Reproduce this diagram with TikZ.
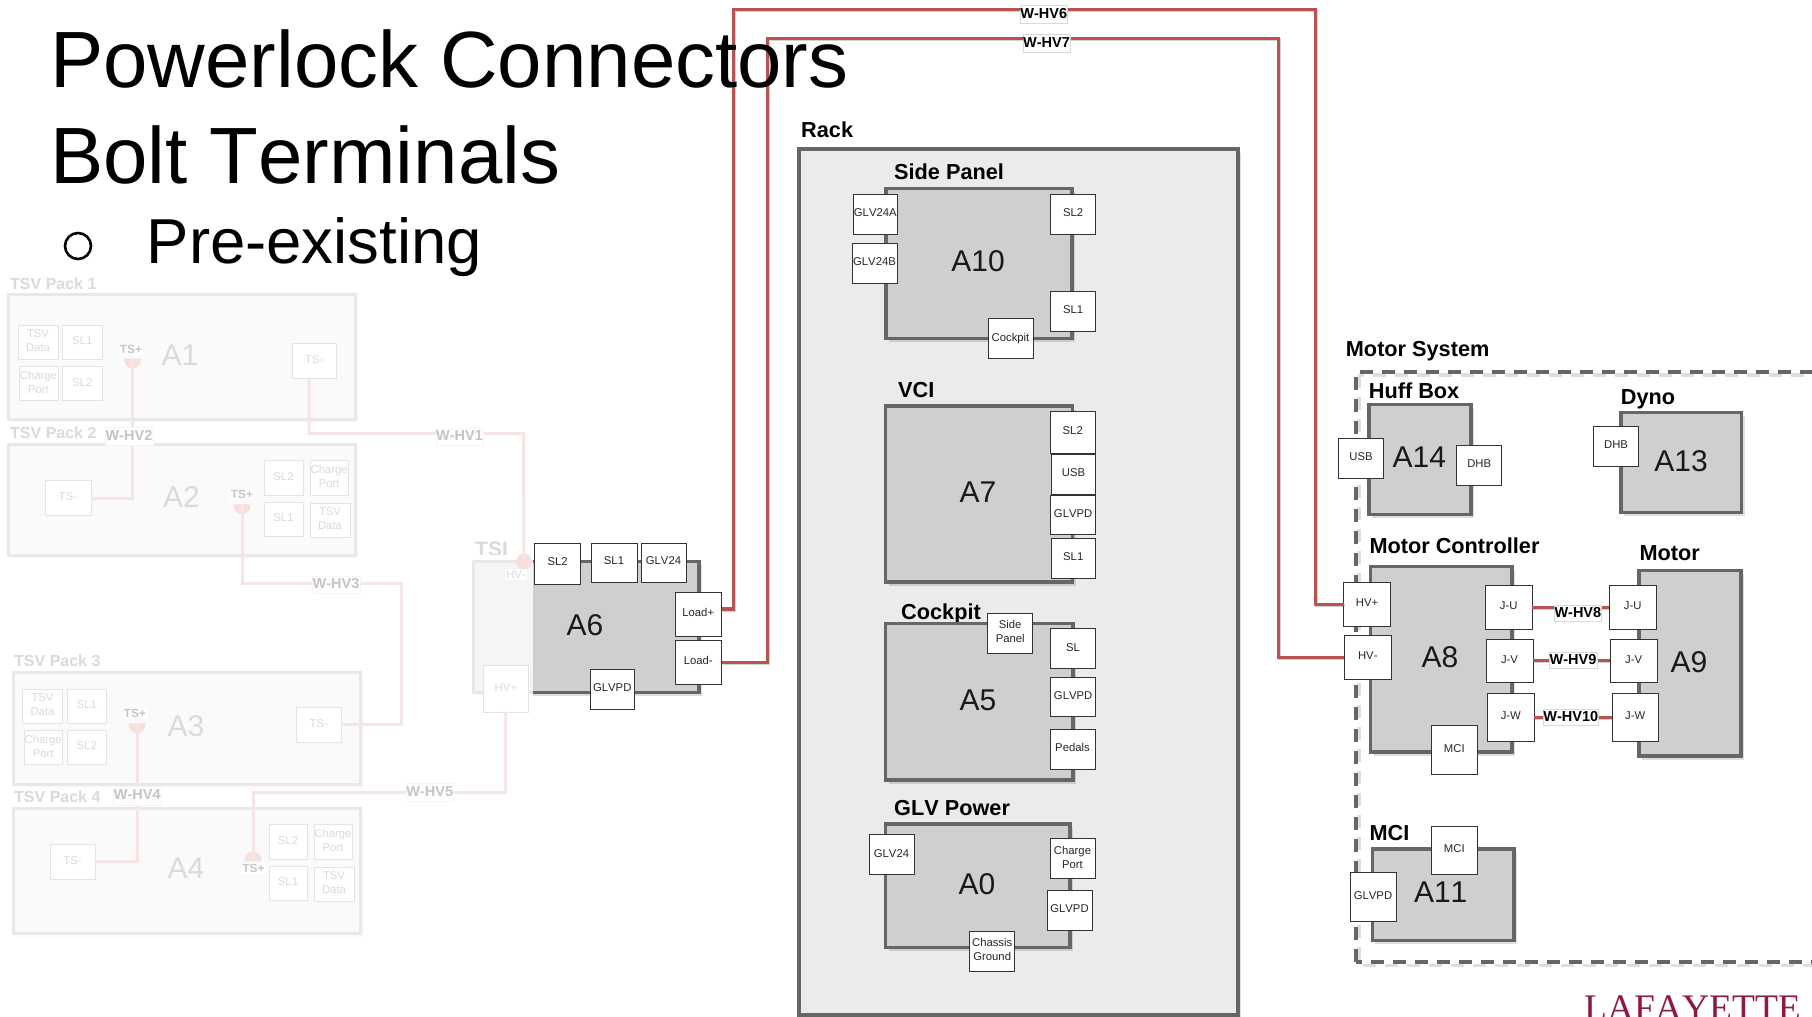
\documentclass[tikz,border=0pt]{standalone}
\usepackage{fontspec}
\setmainfont[Kerning=Off]{Liberation Sans}
\newfontfamily\logofont[Kerning=Off]{Liberation Serif}
\definecolor{wirered}{HTML}{B85450}
\definecolor{boxline}{HTML}{666666}
\definecolor{unitfill}{HTML}{CFCFCF}
\definecolor{rackfill}{HTML}{EBEBEB}
\definecolor{fadeline}{HTML}{E8E8E8}
\definecolor{fadefill}{HTML}{FAFAFA}
\definecolor{fadeport}{HTML}{E4E4E4}
\definecolor{fadetext}{HTML}{DADADA}
\definecolor{fadewire}{HTML}{F6E5E4}
\definecolor{fadedisk}{HTML}{F8DEDD}
\definecolor{logored}{HTML}{8E1B3D}
\tikzset{
  basebox/.style={rectangle,inner sep=0pt,outer sep=0pt,align=center},
  unitbox/.style={basebox,draw=boxline,line width=3.4pt,fill=unitfill},
  rackbox/.style={basebox,draw=boxline,line width=3.4pt,fill=rackfill},
  port/.style={basebox,draw=black!80,line width=1pt,fill=white,text=black!85,
    font=\fontsize{11.3}{14}\selectfont,text depth=3pt},
  fport/.style={basebox,draw=fadeport,line width=1pt,fill=white,text=fadetext,
    font=\fontsize{11.3}{14}\selectfont,text depth=3pt},
  packbox/.style={basebox,draw=fadeline,line width=3pt,fill=fadefill},
  wlabel/.style={basebox,draw=black!15,line width=.5pt,fill=white,text=black,
    font=\fontsize{14.5}{17}\selectfont\bfseries,text depth=2pt},
  fwlabel/.style={basebox,draw=black!4,line width=.5pt,fill=white,text=fadetext!90!black,
    font=\fontsize{14.5}{17}\selectfont\bfseries,text depth=2pt},
  wire/.style={draw=wirered,line width=3.1pt,
    preaction={draw=black,opacity=.18,line width=3.1pt,transform canvas={xshift=1pt,yshift=-1pt}}},
  fwire/.style={draw=fadewire,line width=3pt},
  unitlab/.style={inner sep=0pt,font=\fontsize{30}{32}\selectfont,text=black!90},
  funitlab/.style={inner sep=0pt,font=\fontsize{30}{32}\selectfont,text=fadetext},
  grouplab/.style={anchor=base west,inner sep=0pt,font=\fontsize{21.7}{24}\selectfont\bfseries,text=black},
  fpacklab/.style={anchor=base west,inner sep=0pt,font=\fontsize{16}{18}\selectfont\bfseries,text=fadetext},
  tsplus/.style={fill=white,inner sep=1pt,font=\fontsize{11.9}{14}\selectfont\bfseries,text=fadetext!90!black},
  titletext/.style={anchor=base west,inner sep=0pt,text=black},
  shade/.style={black,opacity=.13},
  fshade/.style={black,opacity=.02},
  sysbox/.style={draw=boxline,line width=3.6pt,dash pattern=on 13pt off 9pt},
}
\newcommand{\bx}[7][]{\node[#1,minimum width={(#5-#3)*1pt},minimum height={(#6-#4)*1pt}] (#2) at ({(#3+#5)/2},{(#4+#6)/2}) {#7};}
\newcommand{\unit}[5]{\fill[shade] ({#2+3},{#3+3.5}) rectangle ({#4+3},{#5+3.5});
  \bx[unitbox]{#1}{#2}{#3}{#4}{#5}{}}
\newcommand{\pack}[5]{\fill[fshade] ({#2+3},{#3+3.5}) rectangle ({#4+3},{#5+3.5});
  \bx[packbox]{#1}{#2}{#3}{#4}{#5}{}}
\begin{document}
\begin{tikzpicture}[x=1pt,y=-1pt]
\useasboundingbox (0,0) rectangle (1812,1017);
\clip (0,0) rectangle (1812,1017);
\fill[white] (0,0) rectangle (1812,1017);

\coordinate (w6a) at (733.2,9.2);
\coordinate (w6b) at (1315.2,9.2);
\coordinate (w7a) at (767.2,38.2);
\coordinate (w7b) at (1278.2,38.2);

% ---- faded packs
\node[fpacklab] (p1lab) at (10,289.3) {TSV Pack 1};
\pack{a1}{8.5}{294.3}{355.5}{419.3}
\bx[fport]{a1tsv}{18}{325}{58}{359.3}{TSV\\Data}
\bx[fport]{a1sl1}{62.5}{325}{102}{359.3}{SL1}
\bx[fport]{a1chg}{19}{366.7}{58}{400.7}{Charge\\Port}
\bx[fport]{a1sl2}{62.5}{366.7}{102}{400.7}{SL2}
\bx[fport]{a1tsm}{292}{343.3}{336.5}{378.3}{TS-}
\node[funitlab] (a1lab) at (180,355) {A1};

\node[fpacklab] (p2lab) at (10,438.3) {TSV Pack 2};
\pack{a2}{8.5}{444}{355.5}{555.7}
\bx[fport]{a2tsm}{45}{480.3}{91}{515.7}{TS-}
\bx[fport]{a2sl2}{264}{460.7}{303}{495}{SL2}
\bx[fport]{a2chg}{310}{460.7}{348.5}{495}{Charge\\Port}
\bx[fport]{a2sl1}{264}{502.3}{303}{536.7}{SL1}
\bx[fport]{a2tsv}{310}{503.3}{350}{537.3}{TSV\\Data}
\node[funitlab] (a2lab) at (181.5,497.3) {A2};

\node[fpacklab] (p3lab) at (14,666.7) {TSV Pack 3};
\pack{a3}{13}{672}{360.5}{784}
\bx[fport]{a3tsv}{22.5}{689}{62.5}{723.3}{TSV\\Data}
\bx[fport]{a3sl1}{67.5}{689}{106}{723.3}{SL1}
\bx[fport]{a3chg}{24}{730.3}{62.5}{764.7}{Charge\\Port}
\bx[fport]{a3sl2}{67.5}{730.3}{106}{764.7}{SL2}
\bx[fport]{a3tsm}{296.5}{707.3}{341}{742.3}{TS-}
\node[funitlab] (a3lab) at (186,726) {A3};

\node[fpacklab] (p4lab) at (14,802.3) {TSV Pack 4};
\pack{a4}{13}{808}{360.5}{933.3}
\bx[fport]{a4tsm}{50}{844.3}{95}{879.3}{TS-}
\bx[fport]{a4sl2}{269}{824.3}{307}{859.3}{SL2}
\bx[fport]{a4chg}{314}{824.3}{352}{859.3}{Charge\\Port}
\bx[fport]{a4sl1}{269}{866.3}{307}{900.3}{SL1}
\bx[fport]{a4tsv}{314}{867.3}{354}{901.7}{TSV\\Data}
\node[funitlab] (a4lab) at (186,868.3) {A4};

% ---- rack
\node[grouplab] (racklab) at (801,137.7) {Rack};
\fill[shade] (802,153) rectangle (1241,1020);
\bx[rackbox]{rack}{799}{149}{1238}{1015}{}

\node[grouplab] (a10head) at (894,179) {Side Panel};
\unit{a10}{886}{188.3}{1072}{338.3}
\bx[port]{a10ga}{853}{194.7}{897.6}{234.3}{GLV24A}
\bx[port]{a10gb}{852}{243.7}{897}{283.3}{GLV24B}
\bx[port]{a10sl2}{1050.7}{194.7}{1095.5}{234.3}{SL2}
\bx[port]{a10sl1}{1050.7}{291.7}{1095.5}{331.3}{SL1}
\bx[port]{a10ck}{988}{318.7}{1033}{358.3}{Cockpit}
\node[unitlab] (a10lab) at (978,261) {A10};

\node[grouplab] (a7head) at (898,397) {VCI};
\unit{a7}{885.7}{406}{1072.7}{582}
\bx[port]{a7sl2}{1050}{411.7}{1095.5}{453}{SL2}
\bx[port]{a7usb}{1051.7}{454}{1095.5}{494}{USB}
\bx[port]{a7gp}{1050.7}{495}{1095.5}{534.7}{GLVPD}
\bx[port]{a7sl1}{1051}{538}{1095.5}{578}{SL1}
\node[unitlab] (a7lab) at (978,492) {A7};

\node[grouplab] (a5head) at (901,619) {Cockpit};
\unit{a5}{885.7}{623.7}{1073}{780}
\bx[port]{a5sp}{987.7}{613}{1032.7}{653}{Side\\Panel}
\bx[port]{a5sl}{1050.7}{628.7}{1095.5}{668.7}{SL}
\bx[port]{a5gp}{1050.7}{677}{1095.5}{716.7}{GLVPD}
\bx[port]{a5pd}{1050}{729}{1095}{769}{Pedals}
\node[unitlab] (a5lab) at (978,700) {A5};

\node[grouplab] (a0head) at (894,815) {GLV Power};
\unit{a0}{885.7}{824}{1070}{947.7}
\bx[port]{a0gl}{869}{834.7}{914}{874.7}{GLV24}
\bx[port]{a0chg}{1050}{838.7}{1095}{878.7}{Charge\\Port}
\bx[port]{a0gp}{1047}{890}{1092}{930}{GLVPD}
\bx[port]{a0cg}{969.7}{931}{1014.7}{971}{Chassis\\Ground}
\node[unitlab] (a0lab) at (977,884) {A0};

% ---- TSI / A6
\node[anchor=base west,inner sep=0pt,font=\fontsize{21}{24}\selectfont\bfseries,text=fadetext] (tsilab) at (475,556) {TSI};
\unit{a6}{473}{561.7}{699}{692.7}
\fill[white] (468,555) rectangle (533,700);
\fill[black!4] (473,561.7) rectangle (533,692.7);
\draw[draw=fadeline,line width=3pt] (533,561.7) -- (473,561.7) -- (473,692.7) -- (533,692.7);
\node[fill=white,inner sep=1.5pt,font=\fontsize{11.3}{14}\selectfont,text=fadetext] (hvm) at (516,574.5) {HV-};
\coordinate (hvmdisk) at (524,561.7);
\fill[fadedisk] (hvmdisk) circle (8pt);
\bx[port]{a6sl2}{534.7}{543}{580.7}{584}{SL2}
\bx[port]{a6sl1}{591}{543}{637}{582}{SL1}
\bx[port]{a6gl}{641}{543}{686}{582}{GLV24}
\bx[port]{loadp}{675}{592}{721.5}{636}{Load+}
\bx[port]{loadm}{675}{640.7}{721.5}{684}{Load-}
\bx[port]{a6gp}{590}{669}{634.5}{709}{GLVPD}
\bx[fport]{hvp}{483}{665.7}{528.7}{712.2}{HV+}
\node[unitlab] (a6lab) at (585,625) {A6};

% ---- motor system
\node[grouplab] (syslab) at (1345.7,356.7) {Motor System};
\draw[sysbox,opacity=.13,draw=black] (1359.2,375.2) rectangle (1816.5,965.5);
\draw[sysbox] (1356,962) -- (1356,371.7) -- (1813.5,371.7) -- (1813.5,962) -- cycle;

\node[grouplab] (a14head) at (1368.7,398.3) {Huff Box};
\unit{a14}{1369}{404.7}{1471}{514.3}
\bx[port]{a14usb}{1338.7}{438.7}{1383.3}{478.3}{USB}
\bx[port]{a14dhb}{1456.7}{445.3}{1501.7}{485}{DHB}
\node[unitlab] (a14lab) at (1419.3,457.3) {A14};

\node[grouplab] (a13head) at (1620.7,404) {Dyno};
\unit{a13}{1621}{412.3}{1741.7}{512.7}
\bx[port]{a13dhb}{1593.7}{426.7}{1638.3}{466.3}{DHB}
\node[unitlab] (a13lab) at (1681,460.7) {A13};

\node[grouplab] (a8head) at (1369.3,553.3) {Motor Controller};
\unit{a8}{1370.7}{566.7}{1512}{752}
\bx[port]{hvpos}{1343.7}{582.7}{1390.3}{626.3}{HV+}
\bx[port]{hvneg}{1344.3}{635.3}{1391.3}{679}{HV-}
\bx[port]{a8ju}{1485.3}{585.3}{1532}{629.3}{J-U}
\bx[port]{a8jv}{1486}{639}{1533}{682.3}{J-V}
\bx[port]{a8jw}{1487.7}{693.3}{1534}{741.7}{J-W}
\bx[port]{a8mci}{1431.3}{725.7}{1477.3}{774}{MCI}
\node[unitlab] (a8lab) at (1440,657) {A8};

\node[grouplab] (a9head) at (1639.3,560.7) {Motor};
\unit{a9}{1639}{570.7}{1741}{756}
\bx[port]{a9ju}{1609.3}{585.3}{1656}{629.3}{J-U}
\bx[port]{a9jv}{1610.3}{639}{1657}{682.3}{J-V}
\bx[port]{a9jw}{1612.3}{693.3}{1658}{741.7}{J-W}
\node[unitlab] (a9lab) at (1689,661.7) {A9};

\node[grouplab] (a11head) at (1369.3,840.7) {MCI};
\unit{a11}{1372.3}{849}{1514}{940.7}
\bx[port]{a11mci}{1431.3}{826.3}{1477.3}{874.7}{MCI}
\bx[port]{a11gp}{1350}{872.7}{1396}{921}{GLVPD}
\node[unitlab] (a11lab) at (1440.7,892.3) {A11};

% ---- faded wires and half disks
\coordinate (d1) at (132.5,358.7);
\coordinate (d2) at (242,504.3);
\coordinate (d3) at (137,723.3);
\coordinate (d4) at (253,861.3);
\fill[fadedisk] ([xshift=-8.6pt]d1) arc (180:360:8.6pt and 10pt) -- cycle;
\fill[fadedisk] ([xshift=-8.6pt]d2) arc (180:360:8.6pt and 10pt) -- cycle;
\fill[fadedisk] ([xshift=-8.6pt]d3) arc (180:360:8.6pt and 10pt) -- cycle;
\fill[fadedisk] ([xshift=-8.6pt]d4) arc (180:0:8.6pt and 10pt) -- cycle;
\node[tsplus] (d1lab) at (131,349.3) {TS+};
\node[tsplus] (d2lab) at (242,494.3) {TS+};
\node[tsplus] (d3lab) at (135,713.3) {TS+};
\node[tsplus] (d4lab) at (253.5,868.7) {TS+};
\coordinate (v1) at (523.5,433.7);
\coordinate (v3) at (401,583);
\coordinate (v5) at (253,792.3);
\draw[fwire] (a1tsm.south -| 309,0) |- (v1) -- (hvmdisk);
\draw[fwire] (d1) |- (a2tsm.east);
\draw[fwire] (d2) |- (v3) |- (a3tsm.east);
\draw[fwire] (d3) |- (a4tsm.east);
\draw[fwire] (d4) -- (v5) -| (hvp.south);
\bx[fwlabel]{w1}{436}{428.3}{483}{445}{W-HV1}
\bx[fwlabel]{w2}{105}{427.7}{153}{445}{W-HV2}
\bx[fwlabel]{w3}{312}{576}{360}{593}{W-HV3}
\bx[fwlabel]{w4}{113.5}{786.7}{161}{805}{W-HV4}
\bx[fwlabel]{w5}{406}{783.3}{453.5}{801}{W-HV5}

% ---- live wires
\draw[wire] ([yshift=5pt]loadp.east) -| (w6a) -- (w6b) |- (hvpos.west);
\draw[wire] (loadm.east) -| (w7a) -- (w7b) |- (hvneg.west);
\draw[wire] (a8ju.east) -- (a9ju.west);
\draw[wire] (a8jv.east) -- (a9jv.west);
\draw[wire] (a8jw.east) -- (a9jw.west);
\bx[wlabel]{w6}{1020}{5}{1067.6}{23.3}{W-HV6}
\bx[wlabel]{w7}{1023}{34.7}{1070}{52.7}{W-HV7}
\bx[wlabel]{w8}{1554}{605}{1601.7}{621}{W-HV8}
\bx[wlabel]{w9}{1549}{652}{1597}{668}{W-HV9}
\bx[wlabel]{w10}{1543}{709.7}{1598.7}{725.7}{W-HV10}

% ---- title
\node[titletext,font=\fontsize{79.8}{90}\selectfont] (t1) at (50,87.3) {Powerlock Connectors};
\node[titletext,font=\fontsize{79.8}{90}\selectfont] (t2) at (50,183.3) {Bolt Terminals};
\node[draw=black,line width=2.6pt,circle,minimum size=26pt,inner sep=0pt] (bullet) at (78,246) {};
\node[titletext,font=\fontsize{63.5}{70}\selectfont] (t3) at (146.5,263.3) {Pre-existing};

% ---- logo
\node[anchor=base west,inner sep=0pt,text=logored,font=\logofont\fontsize{37.5}{40}\selectfont] (logo) at (1584,1020) {LAFAYETTE};
\end{tikzpicture}
\end{document}
